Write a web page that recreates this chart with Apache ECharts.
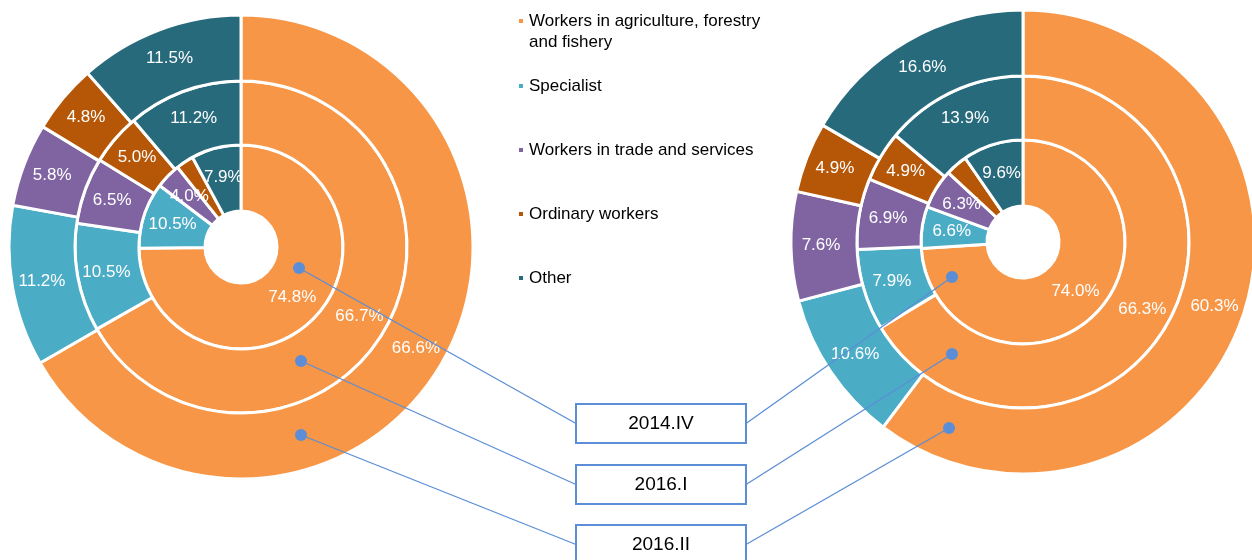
<!DOCTYPE html>
<html>
<head>
<meta charset="utf-8">
<script src="https://cdn.jsdelivr.net/npm/echarts@6/dist/echarts.min.js"></script>
<style>
  html, body { margin: 0; padding: 0; background: #fff; }
  #chart { width: 1252px; height: 560px; }
</style>
</head>
<body>
<div id="chart"></div>
<script>
// categories and colours
var categories = ['Workers in agriculture, forestry\nand fishery', 'Specialist', 'Workers in trade and services', 'Ordinary workers', 'Other'];
var colors = ['#f79646', '#4bacc6', '#8064a2', '#b65708', '#276a7c'];
var periods = ['2014.IV', '2016.I', '2016.II'];

// left donut, inner -> outer ring
var left2014IV = [74.8, 10.5, 4.0, 2.8, 7.9];
var left2016I = [66.7, 10.5, 6.5, 5.0, 11.2];
var left2016II = [66.6, 11.2, 5.8, 4.8, 11.5];

// right donut, inner -> outer ring
var right2014IV = [74.0, 6.6, 6.3, 3.5, 9.6];
var right2016I = [66.3, 7.9, 6.9, 4.9, 13.9];
var right2016II = [60.3, 10.6, 7.6, 4.9, 16.6];

var font = 'Liberation Sans, Arial, sans-serif';
var blue = '#5b8ed6';

var leftCenter = [241, 247];
var rightCenter = [1023, 242];
var rings = [[36, 102], [102, 166], [166, 232]];

function ring(name, values, center, radius, hideSmall) {
    return {
        name: name,
        type: 'pie',
        center: center,
        radius: radius,
        avoidLabelOverlap: false,
        silent: true,
        itemStyle: {
            borderColor: '#fff',
            borderWidth: 3
        },
        label: {
            position: 'inside',
            color: '#fff',
            fontSize: 17,
            fontFamily: font,
            formatter: function (p) {
                return p.value.toFixed(1) + '%';
            }
        },
        labelLine: { show: false },
        data: values.map(function (v, i) {
            var item = {
                name: categories[i],
                value: v,
                itemStyle: { color: colors[i] }
            };
            // the small ordinary-workers slice of the inner ring has no label
            if (hideSmall && i === 3) {
                item.label = { show: false };
            }
            return item;
        })
    };
}

var series = [
    ring('L ' + periods[0], left2014IV, leftCenter, rings[0], true),
    ring('L ' + periods[1], left2016I, leftCenter, rings[1], false),
    ring('L ' + periods[2], left2016II, leftCenter, rings[2], false),
    ring('R ' + periods[0], right2014IV, rightCenter, rings[0], true),
    ring('R ' + periods[1], right2016I, rightCenter, rings[1], false),
    ring('R ' + periods[2], right2016II, rightCenter, rings[2], false)
];

// legend: one block per item
var legendTops = [-10.5, 75.5, 139.5, 203.5, 267.5];
var legends = categories.map(function (c, i) {
    return {
        data: [c],
        left: 517,
        top: legendTops[i],
        padding: 0,
        itemWidth: 6,
        itemHeight: 6,
        icon: 'rect',
        selectedMode: false,
        // empty first line keeps the marker level with the first text line
        formatter: i === 0 ? function (n) { return '\n' + n; } : '{name}',
        textStyle: {
            color: '#000',
            fontSize: 17,
            fontFamily: font,
            lineHeight: 21
        }
    };
});

// callouts: boxes in the middle, dots in each donut
var boxX = 576, boxW = 170, boxH = 39;
var boxTops = [404, 465, 525];
var leftDots = [[58, 21], [60, 114], [60, 188]];
var rightDots = [[-71, 35], [-71, 112], [-74, 186]];

var graphics = [];
periods.forEach(function (p, i) {
    var midY = boxTops[i] + boxH / 2;
    var lx = leftCenter[0] + leftDots[i][0], ly = leftCenter[1] + leftDots[i][1];
    var rx = rightCenter[0] + rightDots[i][0], ry = rightCenter[1] + rightDots[i][1];
    graphics.push({
        type: 'line', z: 100,
        shape: { x1: lx, y1: ly, x2: boxX, y2: midY },
        style: { stroke: blue, lineWidth: 1.3 }
    });
    graphics.push({
        type: 'line', z: 100,
        shape: { x1: boxX + boxW, y1: midY, x2: rx, y2: ry },
        style: { stroke: blue, lineWidth: 1.3 }
    });
    graphics.push({
        type: 'circle', z: 101,
        shape: { cx: lx, cy: ly, r: 6 },
        style: { fill: blue }
    });
    graphics.push({
        type: 'circle', z: 101,
        shape: { cx: rx, cy: ry, r: 6 },
        style: { fill: blue }
    });
    graphics.push({
        type: 'rect', z: 102,
        shape: { x: boxX, y: boxTops[i], width: boxW, height: boxH },
        style: { fill: '#fff', stroke: blue, lineWidth: 2 }
    });
    graphics.push({
        type: 'text', z: 103,
        x: boxX + boxW / 2, y: midY,
        style: {
            text: p,
            fill: '#000',
            fontSize: 19,
            fontFamily: font,
            align: 'center',
            verticalAlign: 'middle'
        }
    });
});

var chart = echarts.init(document.getElementById('chart'));
chart.setOption({
    animation: false,
    color: colors,
    legend: legends,
    series: series,
    graphic: graphics
});
</script>
</body>
</html>
